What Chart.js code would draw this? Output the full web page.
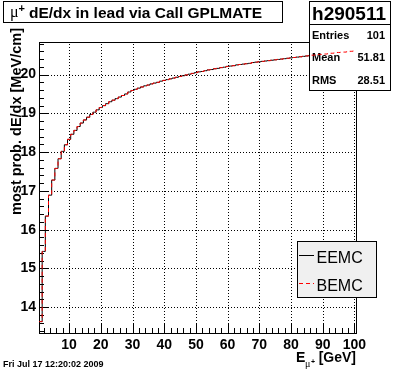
<!DOCTYPE html>
<html>
<head>
<meta charset="utf-8">
<script src="https://cdn.jsdelivr.net/npm/chart.js@4.4.0/dist/chart.umd.min.js"></script>
<style>
  html, body { margin: 0; padding: 0; background: #fff; }
  canvas { display: block; }
</style>
</head>
<body>
<canvas id="c" width="396" height="372"></canvas>
<script>
// bin centres (muon energy, GeV)
const energies = [
    1, 2, 3, 4, 5, 6, 7, 8, 9, 10,
    11, 12, 13, 14, 15, 16, 17, 18, 19, 20,
    21, 22, 23, 24, 25, 26, 27, 28, 29, 30,
    31, 32, 33, 34, 35, 36, 37, 38, 39, 40,
    41, 42, 43, 44, 45, 46, 47, 48, 49, 50,
    51, 52, 53, 54, 55, 56, 57, 58, 59, 60,
    61, 62, 63, 64, 65, 66, 67, 68, 69, 70,
    71, 72, 73, 74, 75, 76, 77, 78, 79, 80,
    81, 82, 83, 84, 85, 86, 87, 88, 89, 90,
    91, 92, 93, 94, 95, 96, 97, 98, 99, 100
];

// most probable dE/dx [MeV/cm]
const eemcValues = [
    13.63, 15.44, 16.35, 16.89, 17.28, 17.58, 17.83, 18.02, 18.19, 18.33,
    18.46, 18.56, 18.66, 18.75, 18.83, 18.90, 18.97, 19.03, 19.09, 19.15,
    19.20, 19.25, 19.30, 19.34, 19.38, 19.42, 19.46, 19.50, 19.55, 19.59,
    19.62, 19.65, 19.68, 19.71, 19.73, 19.76, 19.78, 19.80, 19.83, 19.85,
    19.87, 19.89, 19.91, 19.93, 19.95, 19.97, 19.99, 20.01, 20.03, 20.05,
    20.07, 20.08, 20.10, 20.12, 20.13, 20.15, 20.16, 20.18, 20.19, 20.21,
    20.22, 20.23, 20.25, 20.26, 20.27, 20.28, 20.29, 20.31, 20.32, 20.33,
    20.34, 20.35, 20.36, 20.37, 20.38, 20.39, 20.40, 20.41, 20.42, 20.43,
    20.44, 20.45, 20.46, 20.47, 20.48, 20.49, 20.50, 20.51, 20.52, 20.52,
    20.53, 20.54, 20.55, 20.56, 20.57, 20.58, 20.58, 20.59, 20.60, 20.61
];
const bemcValues = [
    13.63, 15.44, 16.35, 16.89, 17.28, 17.58, 17.83, 18.02, 18.19, 18.33,
    18.46, 18.56, 18.66, 18.75, 18.83, 18.90, 18.97, 19.03, 19.09, 19.15,
    19.20, 19.25, 19.30, 19.34, 19.38, 19.42, 19.46, 19.50, 19.55, 19.59,
    19.62, 19.65, 19.68, 19.71, 19.73, 19.76, 19.78, 19.80, 19.83, 19.85,
    19.87, 19.89, 19.91, 19.93, 19.95, 19.97, 19.99, 20.01, 20.03, 20.05,
    20.07, 20.08, 20.10, 20.12, 20.13, 20.15, 20.16, 20.18, 20.19, 20.21,
    20.22, 20.23, 20.25, 20.26, 20.27, 20.28, 20.29, 20.31, 20.32, 20.33,
    20.34, 20.35, 20.36, 20.37, 20.38, 20.39, 20.40, 20.41, 20.42, 20.43,
    20.44, 20.45, 20.46, 20.47, 20.48, 20.49, 20.50, 20.51, 20.52, 20.52,
    20.53, 20.54, 20.55, 20.56, 20.57, 20.58, 20.58, 20.59, 20.60, 20.61
];

const xTicks = [10, 20, 30, 40, 50, 60, 70, 80, 90, 100];
const yTicks = [14, 15, 16, 17, 18, 19, 20];
const statsRows = [['Entries', '101'], ['Mean', '51.81'], ['RMS', '28.51']];
const legendItems = ['EEMC', 'BEMC'];

const FONT = '"Liberation Sans", Arial, Helvetica, sans-serif';

// histogram: pad half a bin on each side so the steps reach the bin edges
function toHist(vals) {
    const pts = energies.map((e, i) => ({ x: e, y: vals[i] }));
    pts.unshift({ x: energies[0] - 0.5, y: vals[0] });
    pts.push({ x: energies[energies.length - 1] + 0.5, y: vals[vals.length - 1] });
    return pts;
}

function line(ctx, x1, y1, x2, y2) {
    ctx.beginPath();
    ctx.moveTo(x1, y1);
    ctx.lineTo(x2, y2);
    ctx.stroke();
}

const rootDecor = {
    id: 'rootDecor',
    beforeDatasetsDraw(chart) {
        const { ctx, chartArea: a, scales: { x, y } } = chart;
        ctx.save();
        ctx.strokeStyle = '#000';
        ctx.lineWidth = 1;

        // dotted grid at the major ticks
        ctx.setLineDash([1, 2]);
        x.ticks.forEach(t => {
            const px = Math.round(x.getPixelForValue(t.value)) + 0.5;
            line(ctx, px, a.bottom, px, a.top);
        });
        y.ticks.forEach(t => {
            const py = Math.round(y.getPixelForValue(t.value)) + 0.5;
            line(ctx, a.left, py, a.right, py);
        });
        ctx.setLineDash([]);

        // frame
        ctx.strokeRect(a.left + 0.5, a.top + 0.5, a.right - a.left, a.bottom - a.top);

        // x ticks: major every 10, minor every 2
        for (let v = 2; v <= 100; v += 2) {
            const px = Math.round(x.getPixelForValue(v)) + 0.5;
            const len = v % 10 === 0 ? 9 : 5;
            line(ctx, px, a.bottom, px, a.bottom - len);
        }
        // y ticks: major every 1, minor every 0.2
        for (let k = 67; k <= 104; k++) {
            const py = Math.round(y.getPixelForValue(k / 5)) + 0.5;
            const len = k % 5 === 0 ? 9 : 5;
            line(ctx, a.left, py, a.left + len, py);
        }
        ctx.restore();
    },
    afterDatasetDraw(chart, args) {
        if (args.index !== 0) return;
        // stats box sits above the black histogram but below the red one
        const ctx = chart.ctx;
        ctx.save();
        ctx.fillStyle = '#fff';
        ctx.fillRect(309, 1, 81, 89);
        ctx.strokeStyle = '#000';
        ctx.lineWidth = 1;
        ctx.strokeRect(309.5, 1.5, 81, 89);
        line(ctx, 309, 24.5, 390, 24.5);
        ctx.fillStyle = '#000';
        ctx.font = 'bold 19px ' + FONT;
        ctx.textAlign = 'center';
        ctx.textBaseline = 'alphabetic';
        ctx.fillText('h290511', 349, 20);
        ctx.font = 'bold 11px ' + FONT;
        statsRows.forEach((row, i) => {
            const by = 38.5 + i * 22.5;
            ctx.textAlign = 'left';
            ctx.fillText(row[0], 312, by);
            ctx.textAlign = 'right';
            ctx.fillText(row[1], 385, by);
        });
        ctx.restore();
    },
    afterDraw(chart) {
        const ctx = chart.ctx;
        ctx.save();
        ctx.fillStyle = '#000';
        ctx.strokeStyle = '#000';
        ctx.lineWidth = 1;

        // title box
        ctx.fillStyle = '#fff';
        ctx.fillRect(3, 1, 280, 21);
        ctx.strokeRect(3.5, 1.5, 279, 21);
        ctx.fillStyle = '#000';
        ctx.textBaseline = 'alphabetic';
        ctx.textAlign = 'left';
        ctx.font = '16px "Liberation Serif", serif';
        ctx.fillText('\u03bc', 10, 17);
        ctx.font = 'bold 11px ' + FONT;
        ctx.fillText('+', 18.5, 12);
        ctx.font = 'bold 15.5px ' + FONT;
        ctx.fillText('dE/dx in lead via Call GPLMATE', 29, 17.5);

        // y title
        ctx.save();
        ctx.translate(20.5, 28);
        ctx.rotate(-Math.PI / 2);
        ctx.textAlign = 'right';
        ctx.font = 'bold 14.5px ' + FONT;
        ctx.fillText('most prob. dE/dx [MeV/cm]', 0, 0);
        ctx.restore();

        // x title: E_{mu+} [GeV]
        ctx.textAlign = 'right';
        ctx.font = 'bold 14px ' + FONT;
        ctx.fillText('[GeV]', 356, 362);
        ctx.textAlign = 'left';
        ctx.fillText('E', 296, 362);
        ctx.font = '10px "Liberation Serif", serif';
        ctx.fillText('\u03bc', 305, 367);
        ctx.font = 'bold 7px ' + FONT;
        ctx.fillText('+', 311, 364);

        // date stamp
        ctx.font = 'bold 9px ' + FONT;
        ctx.fillText('Fri Jul 17 12:20:02 2009', 3, 367);

        // legend
        ctx.fillStyle = '#f0f0f0';
        ctx.fillRect(297, 241, 80, 56);
        ctx.strokeRect(297.5, 241.5, 79, 56);
        ctx.fillStyle = '#000';
        ctx.font = '16px ' + FONT;
        const legendY = [255.5, 283.5];
        legendItems.forEach((name, i) => {
            const ds = chart.data.datasets[i];
            ctx.save();
            ctx.strokeStyle = ds.borderColor;
            ctx.setLineDash(ds.borderDash || []);
            line(ctx, 299, legendY[i], 314, legendY[i]);
            ctx.restore();
            ctx.fillText(name, 316.5, legendY[i] + 7);
        });
        ctx.restore();
    }
};

new Chart(document.getElementById('c'), {
    type: 'line',
    data: {
        datasets: [
            {
                label: 'EEMC',
                data: toHist(eemcValues),
                borderColor: '#000000',
                borderWidth: 1,
                stepped: 'middle',
                pointRadius: 0,
                fill: false,
                order: 2
            },
            {
                label: 'BEMC',
                data: toHist(bemcValues),
                borderColor: '#ff0000',
                borderWidth: 1,
                borderDash: [4, 3],
                stepped: 'middle',
                pointRadius: 0,
                fill: false,
                order: 1
            }
        ]
    },
    options: {
        responsive: false,
        animation: false,
        devicePixelRatio: 1,
        layout: { padding: { top: 42, right: 40, left: 0, bottom: 0 } },
        plugins: {
            legend: { display: false },
            tooltip: { enabled: false },
            title: { display: false }
        },
        scales: {
            x: {
                type: 'linear',
                min: 0.5,
                max: 100.5,
                afterFit: s => { s.height = 39; },
                afterBuildTicks: s => { s.ticks = xTicks.map(v => ({ value: v })); },
                ticks: {
                    autoSkip: false,
                    maxRotation: 0,
                    padding: 4,
                    color: '#000',
                    font: { family: FONT, size: 14, weight: 'bold' },
                    callback: v => String(v)
                },
                grid: { display: false, drawTicks: false },
                border: { display: false }
            },
            y: {
                type: 'linear',
                min: 13.336,
                max: 20.84,
                afterFit: s => { s.width = 39; },
                afterBuildTicks: s => { s.ticks = yTicks.map(v => ({ value: v })); },
                ticks: {
                    autoSkip: false,
                    padding: 3,
                    color: '#000',
                    font: { family: FONT, size: 14, weight: 'bold' },
                    callback: v => String(v)
                },
                grid: { display: false, drawTicks: false },
                border: { display: false }
            }
        }
    },
    plugins: [rootDecor]
});
</script>
</body>
</html>
